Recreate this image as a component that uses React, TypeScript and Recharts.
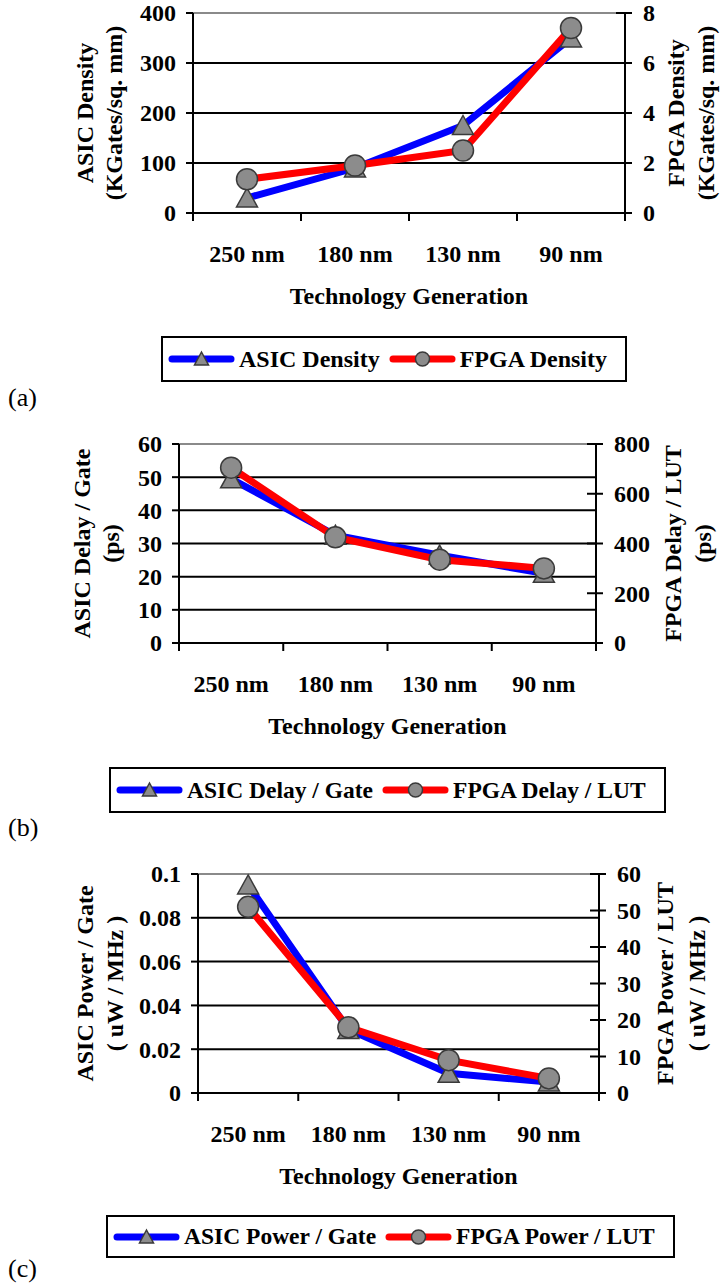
import React from 'react';
import { LineChart, Line, XAxis, YAxis, CartesianGrid } from 'recharts';

const generations = ['250 nm', '180 nm', '130 nm', '90 nm'];

// (a) density
const asicDensity = [30, 90, 175, 350];
const fpgaDensity = [1.35, 1.9, 2.5, 7.4];
const asicDensityTicks = [0, 100, 200, 300, 400];
const fpgaDensityTicks = [0, 2, 4, 6, 8];

// (b) delay
const asicDelay = [49.5, 32.5, 26.5, 21];
const fpgaDelay = [705, 425, 335, 300];
const asicDelayTicks = [0, 10, 20, 30, 40, 50, 60];
const fpgaDelayTicks = [0, 200, 400, 600, 800];

// (c) power
const asicPower = [0.095, 0.029, 0.009, 0.005];
const fpgaPower = [51, 18, 9, 4];
const asicPowerTicks = [0, 0.02, 0.04, 0.06, 0.08, 0.1];
const fpgaPowerTicks = [0, 10, 20, 30, 40, 50, 60];

const FONT = "'Liberation Serif', 'Times New Roman', serif";
const BLUE = '#0000ff';
const RED = '#ff0000';
const MARKER_FILL = '#8c8c8c';
const MARKER_STROKE = '#3a3a3a';

const textStyle = { fontFamily: FONT, fontWeight: 700, fontSize: 24, fill: '#000' };

const renderTriangle = (p: any) => {
  if (p.cx == null || p.cy == null) return <g key={`t-${p.index}`} />;
  const { cx, cy } = p;
  return (
    <path
      key={`t-${p.index}`}
      d={`M${cx},${cy - 10} L${cx + 10.5},${cy + 9} L${cx - 10.5},${cy + 9} Z`}
      fill={MARKER_FILL}
      stroke={MARKER_STROKE}
      strokeWidth={1.5}
    />
  );
};

const renderCircle = (p: any) => {
  if (p.cx == null || p.cy == null) return <g key={`c-${p.index}`} />;
  return (
    <circle key={`c-${p.index}`} cx={p.cx} cy={p.cy} r={10.5} fill={MARKER_FILL} stroke={MARKER_STROKE} strokeWidth={1.5} />
  );
};

function LegendIcon({ kind, color }: { kind: 'triangle' | 'circle'; color: string }) {
  return (
    <svg width={67} height={20} style={{ display: 'block', flex: 'none' }}>
      <line x1={4} y1={10} x2={63} y2={10} stroke={color} strokeWidth={7} strokeLinecap="round" />
      {kind === 'triangle' ? (
        <path d="M33.5,3 L40.5,16 L26.5,16 Z" fill={MARKER_FILL} stroke={MARKER_STROKE} strokeWidth={1.5} />
      ) : (
        <circle cx={33.5} cy={10} r={7} fill={MARKER_FILL} stroke={MARKER_STROKE} strokeWidth={1.5} />
      )}
    </svg>
  );
}

interface PanelProps {
  top: number;
  plotLeft: number;
  plotRight: number;
  plotTop: number;
  plotBottom: number;
  asic: number[];
  fpga: number[];
  leftTicks: number[];
  rightTicks: number[];
  leftTitle: [string, string];
  rightTitle: [string, string];
  leftTitleX: [number, number];
  rightTitleX: [number, number];
  asicName: string;
  fpgaName: string;
  legendLeft: number;
  legendTop: number;
  legendHeight: number;
  legendFont: number;
  caption: string;
  captionY: number;
}

function Panel(props: PanelProps) {
  const {
    top, plotLeft, plotRight, plotTop, plotBottom, asic, fpga, leftTicks, rightTicks,
    leftTitle, rightTitle, leftTitleX, rightTitleX, asicName, fpgaName,
    legendLeft, legendTop, legendHeight, legendFont, caption, captionY,
  } = props;

  const data = generations.map((gen, i) => ({ gen, asic: asic[i], fpga: fpga[i] }));
  const marginTop = plotTop - top;
  const height = plotBottom - top + 100;
  const band = (plotRight - plotLeft) / generations.length;
  const midY = (plotTop + plotBottom) / 2 - top;

  const titleText = (lines: [string, string], xs: [number, number]) => () => (
    <g>
      {lines.map((line, i) => (
        <text
          key={i}
          x={xs[i]}
          y={midY}
          dy="0.35em"
          textAnchor="middle"
          transform={`rotate(-90, ${xs[i]}, ${midY})`}
          style={textStyle}
        >
          {line}
        </text>
      ))}
    </g>
  );

  const gridLine = (p: any) => (
    <line
      key={p.key ?? `g-${p.index}`}
      x1={p.x1}
      y1={p.y1}
      x2={p.x2}
      y2={p.y2}
      stroke={Math.abs(p.y1 - marginTop) < 1 ? '#8a8a8a' : '#000'}
      strokeWidth={2}
    />
  );

  const leftTick = (p: any) => (
    <g key={`l-${p.index}`}>
      <line x1={p.x - 7} x2={p.x} y1={p.y} y2={p.y} stroke="#000" strokeWidth={2} />
      <text x={p.x - 17} y={p.y} dy="0.35em" textAnchor="end" style={textStyle}>
        {p.payload.value}
      </text>
    </g>
  );

  const rightTick = (p: any) => (
    <g key={`r-${p.index}`}>
      <line x1={p.x - 9} x2={p.x + 7} y1={p.y} y2={p.y} stroke="#000" strokeWidth={2} />
      <text x={p.x + 18} y={p.y} dy="0.35em" textAnchor="start" style={textStyle}>
        {p.payload.value}
      </text>
    </g>
  );

  const categoryTick = (p: any) => (
    <g key={`x-${p.index}`}>
      <line x1={p.x - band / 2} x2={p.x - band / 2} y1={p.y} y2={p.y + 8} stroke="#000" strokeWidth={2} />
      {p.index === generations.length - 1 && (
        <line x1={p.x + band / 2} x2={p.x + band / 2} y1={p.y} y2={p.y + 8} stroke="#000" strokeWidth={2} />
      )}
      <text x={p.x} y={p.y + 41} dy="0.35em" textAnchor="middle" style={textStyle}>
        {p.payload.value}
      </text>
    </g>
  );

  const xTitle = () => (
    <text
      x={(plotLeft + plotRight) / 2}
      y={plotBottom - top + 83}
      dy="0.35em"
      textAnchor="middle"
      style={textStyle}
    >
      Technology Generation
    </text>
  );

  return (
    <>
      <div style={{ position: 'absolute', left: 0, top }}>
        <LineChart width={720} height={height} data={data} margin={{ top: marginTop, right: 0, bottom: 0, left: 0 }}>
          <CartesianGrid yAxisId="left" vertical={false} horizontal={gridLine} />
          <XAxis
            dataKey="gen"
            height={100}
            interval={0}
            padding={{ left: band / 2, right: band / 2 }}
            axisLine={{ stroke: '#000', strokeWidth: 2 }}
            tickLine={false}
            tickSize={0}
            tickMargin={0}
            tick={categoryTick}
            label={xTitle}
          />
          <YAxis
            yAxisId="left"
            width={plotLeft}
            domain={[leftTicks[0], leftTicks[leftTicks.length - 1]]}
            ticks={leftTicks}
            interval={0}
            axisLine={{ stroke: '#000', strokeWidth: 2 }}
            tickLine={false}
            tickSize={0}
            tickMargin={0}
            tick={leftTick}
            label={titleText(leftTitle, leftTitleX)}
          />
          <YAxis
            yAxisId="right"
            orientation="right"
            width={720 - plotRight}
            domain={[rightTicks[0], rightTicks[rightTicks.length - 1]]}
            ticks={rightTicks}
            interval={0}
            axisLine={{ stroke: '#000', strokeWidth: 2 }}
            tickLine={false}
            tickSize={0}
            tickMargin={0}
            tick={rightTick}
            label={titleText(rightTitle, rightTitleX)}
          />
          <Line
            yAxisId="left"
            dataKey="asic"
            name={asicName}
            stroke={BLUE}
            strokeWidth={7}
            dot={renderTriangle}
            activeDot={false}
            isAnimationActive={false}
          />
          <Line
            yAxisId="right"
            dataKey="fpga"
            name={fpgaName}
            stroke={RED}
            strokeWidth={7}
            dot={renderCircle}
            activeDot={false}
            isAnimationActive={false}
          />
        </LineChart>
      </div>

      <div
        style={{
          position: 'absolute',
          left: legendLeft,
          top: legendTop,
          height: legendHeight,
          boxSizing: 'border-box',
          border: '2px solid #000',
          display: 'flex',
          alignItems: 'center',
          padding: '0 18px 0 5px',
          fontFamily: FONT,
          fontWeight: 700,
          fontSize: legendFont,
          whiteSpace: 'nowrap',
          background: '#fff',
        }}
      >
        <LegendIcon kind="triangle" color={BLUE} />
        <span style={{ marginLeft: 4, marginRight: 9 }}>{asicName}</span>
        <LegendIcon kind="circle" color={RED} />
        <span style={{ marginLeft: 4 }}>{fpgaName}</span>
      </div>

      <div
        style={{
          position: 'absolute',
          left: 8,
          top: captionY - 13,
          lineHeight: '26px',
          fontFamily: FONT,
          fontSize: 26,
        }}
      >
        {caption}
      </div>
    </>
  );
}

export default function App() {
  return (
    <div style={{ position: 'absolute', left: 0, top: 0, width: 720, height: 1285, background: '#fff' }}>
      <Panel
        top={0}
        plotLeft={193}
        plotRight={625}
        plotTop={13}
        plotBottom={213}
        asic={asicDensity}
        fpga={fpgaDensity}
        leftTicks={asicDensityTicks}
        rightTicks={fpgaDensityTicks}
        leftTitle={['ASIC Density', '(KGates/sq. mm)']}
        rightTitle={['FPGA Density', '(KGates/sq. mm)']}
        leftTitleX={[85, 114]}
        rightTitleX={[676, 706]}
        asicName="ASIC Density"
        fpgaName="FPGA Density"
        legendLeft={161}
        legendTop={336}
        legendHeight={46}
        legendFont={24}
        caption="(a)"
        captionY={398}
      />
      <Panel
        top={420}
        plotLeft={179}
        plotRight={596}
        plotTop={444}
        plotBottom={643}
        asic={asicDelay}
        fpga={fpgaDelay}
        leftTicks={asicDelayTicks}
        rightTicks={fpgaDelayTicks}
        leftTitle={['ASIC Delay / Gate', '(ps)']}
        rightTitle={['FPGA Delay / LUT', '(ps)']}
        leftTitleX={[82, 111]}
        rightTitleX={[673, 703]}
        asicName="ASIC Delay / Gate"
        fpgaName="FPGA Delay / LUT"
        legendLeft={109}
        legendTop={767}
        legendHeight={46}
        legendFont={23.5}
        caption="(b)"
        captionY={828}
      />
      <Panel
        top={850}
        plotLeft={198}
        plotRight={599}
        plotTop={874}
        plotBottom={1093}
        asic={asicPower}
        fpga={fpgaPower}
        leftTicks={asicPowerTicks}
        rightTicks={fpgaPowerTicks}
        leftTitle={['ASIC Power / Gate', '( uW / MHz )']}
        rightTitle={['FPGA Power / LUT', '( uW / MHz )']}
        leftTitleX={[85, 115]}
        rightTitleX={[665, 697]}
        asicName="ASIC Power / Gate"
        fpgaName="FPGA Power / LUT"
        legendLeft={106}
        legendTop={1215}
        legendHeight={43}
        legendFont={23.5}
        caption="(c)"
        captionY={1269}
      />
    </div>
  );
}
